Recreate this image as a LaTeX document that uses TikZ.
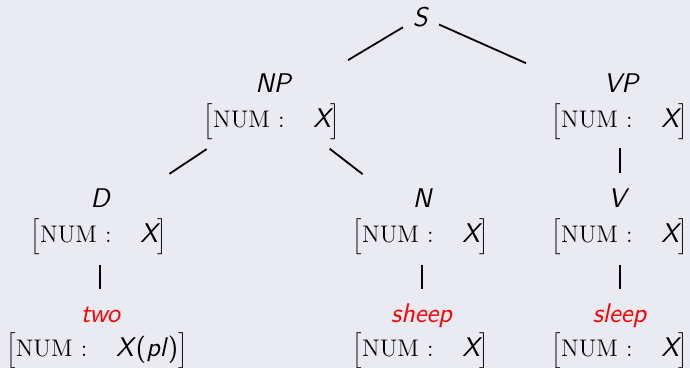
\documentclass[tikz,border=0pt]{standalone}
\usepackage{fontspec}
\definecolor{bg}{RGB}{234,234,242}
\newcommand\sfi[1]{\textsf{\fontsize{13.5}{16}\selectfont\itshape #1}}
\newcommand\avmnum[1]{$\Bigl[\textrm{\fontsize{12}{14}\selectfont NUM}\kern0.8pt:\kern11pt #1\Bigr]$}
\begin{document}
\begin{tikzpicture}[x=0.5pt,y=-0.5pt,
  lbl/.style={anchor=base, inner sep=0pt, font=\fontsize{11.5}{14}\selectfont},
  word/.style={lbl, text=red},
  edge/.style={line width=0.9pt}]
\fill[bg] (0,0) rectangle (690,368);
\useasboundingbox (0,0) rectangle (690,368);
% tree vertex anchors
\coordinate (cS) at (421,16.5);
\coordinate (cNP) at (273,105);
\coordinate (cVP) at (620,105);
\coordinate (cD) at (100,220);
\coordinate (cN) at (422,220);
\coordinate (cV) at (620,220);
\coordinate (cTwo) at (100,335);
\coordinate (cSheep) at (422,335);
\coordinate (cSleep) at (620,335);
% labels
\node[lbl] (S) at (421,27) {\sfi{S}};
\node[lbl] (NP) at (274,93) {\sfi{NP}};
\node[lbl] (NPf) at (272,128) {\avmnum{\sfi{X}}};
\node[lbl] (VP) at (622,93) {\sfi{VP}};
\node[lbl] (VPf) at (620,128) {\avmnum{\sfi{X}}};
\node[lbl] (D) at (101,208) {\sfi{D}};
\node[lbl] (Df) at (99,243) {\avmnum{\sfi{X}}};
\node[lbl] (N) at (423,208) {\sfi{N}};
\node[lbl] (Nf) at (421,243) {\avmnum{\sfi{X}}};
\node[lbl] (V) at (619,208) {\sfi{V}};
\node[lbl] (Vf) at (620,243) {\avmnum{\sfi{X}}};
\node[word] (two) at (101,322) {\sfi{two}};
\node[lbl] (twof) at (97,357) {\avmnum{\sfi{X\textup{(}pl\textup{)}}}};
\node[word] (sheep) at (422,322) {\sfi{sheep}};
\node[lbl] (sheepf) at (421,357) {\avmnum{\sfi{X}}};
\node[word] (sleep) at (620,322) {\sfi{sleep}};
\node[lbl] (sleepf) at (620,357) {\avmnum{\sfi{X}}};
% edges
\draw[edge, shorten <=10.5pt, shorten >=43.7pt] (cS) -- (cNP);
\draw[edge, shorten <=9.85pt, shorten >=51.4pt] (cS) -- (cVP);
\draw[edge, shorten <=39.9pt, shorten >=41.7pt] (cNP) -- (cD);
\draw[edge, shorten <=35.8pt, shorten >=37.5pt] (cNP) -- (cN);
\draw[edge, shorten <=21.5pt, shorten >=23.5pt] (cVP) -- (cV);
\draw[edge, shorten <=22.5pt, shorten >=23pt] (cD) -- (cTwo);
\draw[edge, shorten <=22.5pt, shorten >=23pt] (cN) -- (cSheep);
\draw[edge, shorten <=22.5pt, shorten >=23pt] (cV) -- (cSleep);
\end{tikzpicture}
\end{document}
